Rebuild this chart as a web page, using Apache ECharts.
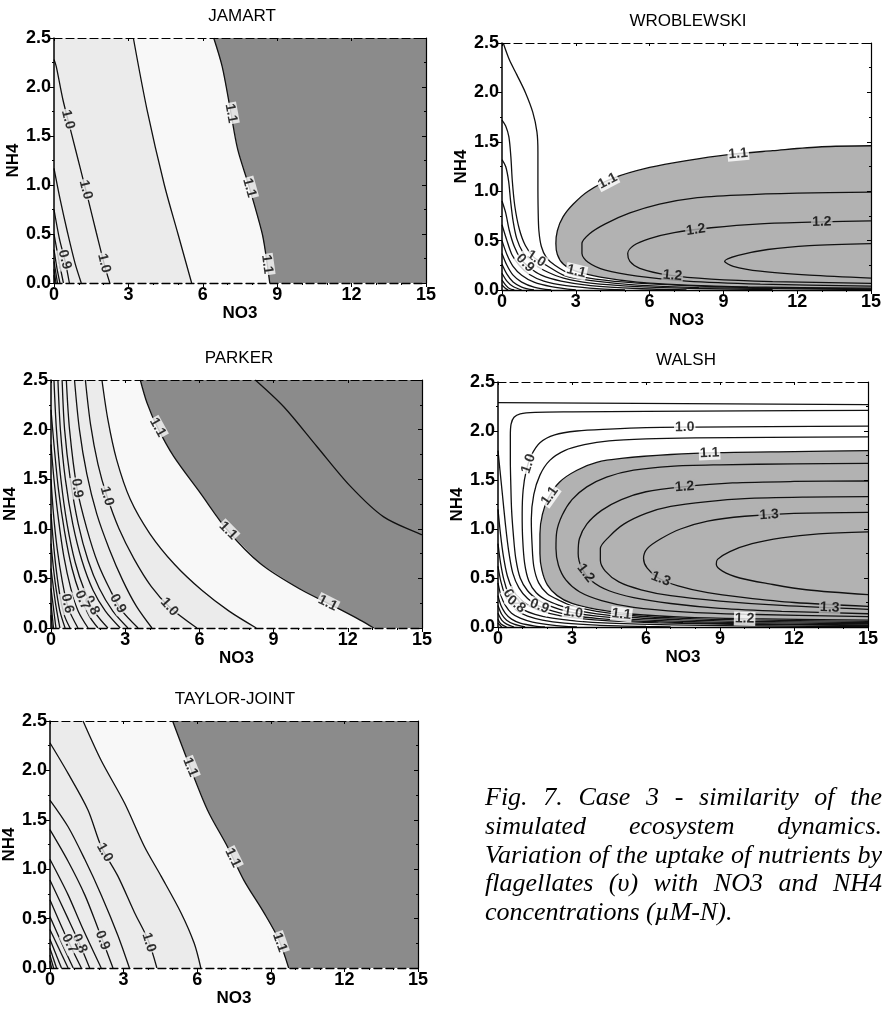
<!DOCTYPE html>
<html><head><meta charset="utf-8">
<script src="https://cdn.jsdelivr.net/npm/echarts@6/dist/echarts.min.js"></script>
<style>html,body{margin:0;padding:0;background:#fff}#c{width:884px;height:1009px}</style>
</head><body><div id="c"></div>
<script>
// ---------------- data ----------------
const panelTitles = ['JAMART', 'WROBLEWSKI', 'PARKER', 'WALSH', 'TAYLOR-JOINT'];
const xName = 'NO3', yName = 'NH4';
const xTickLabels = ['0', '3', '6', '9', '12', '15'];
const yTickLabels = ['0.0', '0.5', '1.0', '1.5', '2.0', '2.5'];

// JAMART contours [NO3, NH4]
const j_110 = [[6.44,2.5],[6.78,2.21],[7.11,1.77],[7.41,1.36],[7.86,0.99],[8.39,0.51],[8.53,0.31],[8.7,0]];
const j_105 = [[3.2,2.5],[3.75,1.77],[4.45,1.0],[5.0,0.5],[5.55,0]];
const j_100 = [[0,2.28],[0.09,2.21],[0.36,1.87],[0.7,1.53],[1.04,1.19],[1.38,0.85],[1.71,0.51],[2.05,0.17],[2.25,0]];
const j_095 = [[0,1.17],[0.25,0.85],[0.55,0.51],[0.85,0.2],[1.1,0]];
const j_090 = [[0,0.75],[0.22,0.45],[0.45,0.22],[0.62,0]];
const j_085 = [[0,0.5],[0.18,0.25],[0.38,0]];
const j_080 = [[0,0.34],[0.12,0.15],[0.24,0]];
const j_075 = [[0,0.22],[0.14,0]];
const j_070 = [[0,0.14],[0.08,0]];
const j_065 = [[0,0.08],[0.04,0]];
const jamartLabels = [[0.57,1.67,'1.0'],[1.24,0.95,'1.0'],[1.98,0.2,'1.0'],[0.45,0.24,'0.9'],[7.11,1.73,'1.1'],[7.85,0.97,'1.1'],[8.6,0.19,'1.1']];

// WROBLEWSKI contours
const w_110 = [[15,1.46],[13,1.45],[11,1.41],[9.2,1.37],[7.5,1.31],[6,1.24],[4.5,1.13],[3.5,1.0],[2.9,0.87],[2.48,0.74],[2.25,0.6],[2.19,0.47],[2.25,0.36],[2.5,0.26],[3,0.19],[4,0.13],[5.5,0.08],[7.5,0.05],[10,0.032],[15,0.018]];
const w_115 = [[15,0.99],[12,0.98],[9.6,0.96],[7.8,0.93],[6.4,0.87],[5.2,0.78],[4.2,0.67],[3.56,0.57],[3.25,0.47],[3.25,0.37],[3.5,0.28],[4.2,0.2],[5.5,0.14],[7.5,0.09],[10.5,0.06],[15,0.04]];
const w_120 = [[15,0.7],[13,0.69],[10.5,0.67],[8.5,0.63],[7,0.58],[6,0.52],[5.35,0.45],[5.11,0.37],[5.2,0.29],[5.6,0.22],[6.8,0.15],[8.5,0.11],[11,0.085],[15,0.068]];
const w_125 = [[15,0.47],[12.5,0.45],[10.8,0.41],[9.6,0.35],[9.05,0.29],[9.4,0.24],[10.5,0.19],[12.5,0.15],[15,0.12]];
const w_a = [[0.05,2.5],[0.3,2.33],[0.6,2.18],[0.95,2.0],[1.25,1.8],[1.42,1.6],[1.46,1.4],[1.46,1.1],[1.47,0.8],[1.5,0.6],[1.6,0.44],[1.8,0.33],[2.15,0.25],[2.8,0.16],[3.8,0.11],[5.5,0.07],[8,0.04],[11,0.022],[15,0.01]];
const w_b = [[0,1.72],[0.15,1.66],[0.28,1.55],[0.36,1.35],[0.42,1.1],[0.52,0.85],[0.7,0.62],[0.95,0.45],[1.3,0.33],[1.8,0.25],[2.6,0.14],[3.8,0.09],[5.5,0.05],[8,0.025],[15,0.005]];
const w_c = [[0,1.32],[0.15,1.25],[0.27,1.1],[0.35,0.9],[0.45,0.7],[0.6,0.52],[0.85,0.38],[1.2,0.28],[1.7,0.2],[2.5,0.12],[3.6,0.07],[5.5,0.035],[8,0.015],[11,0.004]];
const w_d = [[0,0.9],[0.15,0.78],[0.3,0.6],[0.5,0.44],[0.75,0.32],[1.1,0.23],[1.6,0.15],[2.4,0.09],[3.6,0.045],[5.5,0.015],[7.5,0]];
const w_e = [[0,0.66],[0.2,0.5],[0.4,0.36],[0.7,0.25],[1.1,0.16],[1.7,0.09],[2.6,0.045],[4,0.012],[5,0]];
const w_f = [[0,0.5],[0.2,0.36],[0.45,0.24],[0.8,0.15],[1.3,0.08],[2,0.035],[3,0]];
const w_g = [[0,0.37],[0.2,0.25],[0.45,0.15],[0.8,0.08],[1.3,0.03],[2,0]];
const w_h = [[0,0.26],[0.2,0.16],[0.45,0.08],[0.8,0.03],[1.3,0]];
const w_i = [[0,0.17],[0.2,0.09],[0.45,0.035],[0.8,0]];
const w_j = [[0,0.1],[0.15,0.05],[0.3,0.015],[0.5,0]];
const w_k = [[0,0.05],[0.12,0.02],[0.25,0]];
const wroblewskiLabels = [[9.6,1.385,'1.1'],[4.24,1.13,'1.1'],[7.88,0.61,'1.2'],[13.0,0.69,'1.2'],[6.93,0.15,'1.2'],[3.02,0.19,'1.1'],[1.4,0.32,'1.0'],[0.93,0.27,'0.9']];

// PARKER contours
const p_110 = [[3.61,2.5],[3.88,2.27],[4.29,2.03],[4.96,1.73],[6.04,1.36],[7.12,0.99],[8.46,0.65],[10.08,0.39],[11.43,0.22],[12.5,0.08],[13.05,0]];
const p_115 = [[8.26,2.5],[9.41,2.23],[10.75,1.83],[12.1,1.43],[13.45,1.12],[15,0.94]];
const p_105 = [[2.06,2.5],[2.3,2.1],[2.65,1.7],[3.2,1.3],[4.0,0.95],[5.0,0.64],[6.1,0.38],[7.2,0.17],[8.3,0]];
const p_100 = [[1.39,2.5],[1.6,2.05],[1.9,1.65],[2.26,1.33],[2.75,1.0],[3.35,0.7],[4.05,0.42],[4.8,0.21],[5.9,0]];
const p_095 = [[0.95,2.5],[1.15,2.0],[1.45,1.55],[1.85,1.15],[2.35,0.8],[2.9,0.48],[3.45,0.22],[4.08,0]];
const p_090 = [[0.62,2.5],[0.75,2.0],[1.05,1.41],[1.45,1.0],[1.9,0.65],[2.4,0.38],[2.85,0.18],[3.52,0]];
const p_a = [[0.45,2.5],[0.55,2.0],[0.78,1.5],[1.1,1.05],[1.5,0.68],[1.95,0.4],[2.5,0.17],[3.11,0]];
const p_b = [[0.28,2.5],[0.38,2.0],[0.58,1.5],[0.88,1.05],[1.25,0.68],[1.7,0.38],[2.2,0.17],[2.8,0]];
const p_080 = [[0.12,2.5],[0.22,2.0],[0.4,1.5],[0.65,1.05],[0.98,0.66],[1.35,0.38],[1.8,0.15],[2.3,0]];
const p_c = [[0,2.2],[0.12,1.85],[0.3,1.4],[0.55,0.97],[0.85,0.6],[1.2,0.32],[1.55,0.12],[1.9,0]];
const p_070 = [[0,1.85],[0.12,1.5],[0.3,1.1],[0.52,0.72],[0.8,0.4],[1.1,0.17],[1.5,0]];
const p_060 = [[0,1.5],[0.1,1.15],[0.25,0.8],[0.45,0.48],[0.7,0.2],[1.09,0]];
const p_d = [[0,1.15],[0.1,0.85],[0.22,0.57],[0.38,0.3],[0.55,0.12],[0.77,0]];
const p_e = [[0,0.85],[0.1,0.6],[0.22,0.37],[0.36,0.17],[0.57,0]];
const p_f = [[0,0.6],[0.1,0.4],[0.2,0.22],[0.36,0]];
const p_g = [[0,0.4],[0.08,0.24],[0.2,0]];
const p_h = [[0,0.25],[0.1,0]];
const p_i = [[0,0.13],[0.05,0]];
const parkerLabels = [[4.15,2.0,'1.1'],[6.91,0.92,'1.1'],[11.09,0.2,'1.1'],[2.26,1.33,'1.0'],[1.05,1.41,'0.9'],[4.82,0.22,'1.0'],[2.74,0.25,'0.9'],[1.66,0.23,'0.8'],[1.16,0.27,'0.7'],[0.71,0.25,'0.6']];

// WALSH contours
const h_top = [[0,2.29],[15,2.27]];
const h_b = [[15,2.21],[10,2.205],[6,2.2],[3,2.195],[1.5,2.19],[0.9,2.175],[0.65,2.14],[0.53,2.07],[0.5,1.95],[0.5,1.7],[0.52,1.45],[0.55,1.2],[0.62,0.95],[0.72,0.7],[0.9,0.5],[1.2,0.37],[1.6,0.28],[2.0,0.225],[2.5,0.18],[3.0,0.148],[4,0.11],[5.5,0.078],[7.5,0.058],[10,0.045],[15,0.033]];
const h_c = [[15,2.05],[11,2.045],[8,2.04],[6,2.035],[4.5,2.02],[3.2,2.0],[2.3,1.96],[1.7,1.88],[1.35,1.75],[1.15,1.6],[1.02,1.4],[0.98,1.15],[1.0,0.9],[1.08,0.65],[1.25,0.47],[1.55,0.35],[2.0,0.27],[2.5,0.22],[3.0,0.18],[4,0.135],[5.5,0.097],[7.5,0.073],[10,0.058],[15,0.045]];
const h_d = [[15,1.94],[11,1.935],[8,1.93],[6,1.92],[4.5,1.9],[3.5,1.86],[2.7,1.8],[2.1,1.7],[1.7,1.55],[1.45,1.35],[1.35,1.1],[1.38,0.85],[1.45,0.62],[1.65,0.45],[2.0,0.34],[2.5,0.27],[3.0,0.215],[4,0.16],[5.5,0.115],[7.5,0.088],[10,0.072],[15,0.058]];
const h_110 = [[15,1.8],[12,1.79],[9,1.78],[7,1.76],[5,1.72],[4,1.68],[3.2,1.6],[2.5,1.48],[2.05,1.32],[1.8,1.15],[1.7,0.95],[1.7,0.75],[1.78,0.58],[2.0,0.43],[2.4,0.32],[3.0,0.24],[4,0.18],[5.5,0.13],[7.5,0.1],[10,0.085],[15,0.07]];
const h_115 = [[15,1.67],[12,1.665],[9,1.655],[7,1.64],[5.5,1.6],[4.4,1.53],[3.6,1.43],[3.0,1.3],[2.6,1.14],[2.38,0.97],[2.35,0.8],[2.45,0.63],[2.75,0.48],[3.3,0.36],[4.2,0.27],[5.5,0.2],[7.5,0.155],[10,0.13],[15,0.105]];
const h_120 = [[15,1.49],[12,1.485],[9.5,1.47],[7.5,1.43],[6,1.38],[5,1.3],[4.2,1.19],[3.6,1.05],[3.3,0.9],[3.25,0.75],[3.4,0.6],[3.8,0.47],[4.5,0.37],[5.5,0.3],[7,0.24],[9,0.19],[11.5,0.16],[15,0.135]];
const h_125 = [[15,1.33],[12.5,1.325],[10,1.31],[8.5,1.28],[7,1.23],[6,1.16],[5.1,1.05],[4.5,0.92],[4.15,0.8],[4.15,0.68],[4.35,0.57],[4.9,0.46],[5.8,0.38],[7,0.32],[9,0.265],[11.5,0.22],[15,0.18]];
const h_130 = [[15,1.17],[12,1.16],[10,1.13],[8.5,1.08],[7.4,1.0],[6.6,0.9],[6.05,0.8],[5.9,0.7],[6.05,0.6],[6.5,0.5],[7.3,0.42],[8.5,0.35],[10,0.3],[12,0.25],[15,0.21]];
const h_135 = [[15,0.97],[13,0.95],[11.5,0.91],[10.3,0.85],[9.4,0.77],[8.9,0.69],[8.85,0.64],[9.1,0.57],[9.8,0.5],[11,0.44],[12.5,0.38],[15,0.33]];
const h_f1 = [[0,1.8],[0.08,1.6],[0.18,1.35],[0.3,1.05],[0.43,0.78],[0.6,0.55],[0.85,0.4],[1.2,0.29],[1.6,0.22],[2,0.18],[2.5,0.145],[3,0.12],[4,0.088],[5.5,0.062],[7.5,0.045],[10,0.033],[15,0.022]];
const h_f2 = [[0,1.2],[0.1,0.95],[0.22,0.72],[0.38,0.52],[0.6,0.38],[0.9,0.28],[1.3,0.21],[1.8,0.16],[2.5,0.115],[3.2,0.09],[4.5,0.062],[6.5,0.042],[9.5,0.028],[15,0.015]];
const h_f3 = [[0,0.85],[0.1,0.66],[0.24,0.48],[0.42,0.34],[0.65,0.25],[1.0,0.18],[1.5,0.13],[2.2,0.09],[3.2,0.06],[4.5,0.04],[7,0.022],[11,0.01],[15,0.005]];
const h_f4 = [[0,0.62],[0.12,0.46],[0.28,0.33],[0.5,0.23],[0.8,0.16],[1.2,0.11],[1.8,0.07],[2.7,0.04],[4,0.02],[6,0.005],[7,0]];
const h_f5 = [[0,0.45],[0.12,0.32],[0.3,0.22],[0.55,0.14],[0.9,0.09],[1.4,0.05],[2.2,0.02],[3.2,0]];
const h_f6 = [[0,0.32],[0.12,0.22],[0.3,0.14],[0.55,0.08],[0.9,0.04],[1.5,0.01],[1.9,0]];
const h_f7 = [[0,0.22],[0.15,0.13],[0.35,0.07],[0.65,0.03],[1.1,0]];
const h_f8 = [[0,0.14],[0.15,0.07],[0.35,0.03],[0.65,0]];
const h_f9 = [[0,0.08],[0.12,0.03],[0.35,0]];
const h_f10 = [[0,0.04],[0.15,0]];
const walshLabels = [[0.54,0.29,'0.7'],[0.81,0.255,'0.8'],[1.69,0.22,'0.9'],[3.04,0.14,'1.0'],[5.0,0.12,'1.1'],[10.0,0.1,'1.2'],[13.45,0.2,'1.3'],[6.55,0.46,'1.3'],[3.45,0.53,'1.2'],[2.09,1.34,'1.1'],[1.08,1.68,'1.0'],[7.57,2.05,'1.0'],[8.58,1.76,'1.1'],[7.57,1.41,'1.2'],[11.0,1.12,'1.3']];

// TAYLOR-JOINT contours
const t_110 = [[5.0,2.5],[5.61,2.1],[6.42,1.6],[7.23,1.23],[7.9,0.89],[8.72,0.56],[9.32,0.29],[9.73,0]];
const t_105 = [[1.35,2.5],[2.09,2.1],[3.04,1.67],[3.85,1.23],[4.53,0.93],[5.34,0.56],[5.88,0.25],[6.15,0]];
const t_100 = [[0,2.28],[0.74,1.97],[1.55,1.6],[2.09,1.23],[2.77,0.93],[3.45,0.56],[3.99,0.29],[4.36,0]];
const t_a = [[0,1.7],[0.74,1.43],[1.42,1.1],[2.09,0.74],[2.77,0.33],[3.24,0]];
const t_090 = [[0,1.4],[0.74,1.08],[1.42,0.74],[1.96,0.4],[2.57,0]];
const t_b = [[0,1.1],[0.74,0.74],[1.3,0.42],[2.09,0]];
const t_080 = [[0,0.89],[0.7,0.52],[1.2,0.25],[1.62,0]];
const t_c = [[0,0.69],[0.6,0.35],[1.28,0]];
const t_070 = [[0,0.52],[0.5,0.24],[0.95,0]];
const t_d = [[0,0.39],[0.74,0]];
const t_e = [[0,0.29],[0.47,0]];
const t_f = [[0,0.2],[0.27,0]];
const t_g = [[0,0.13],[0.15,0]];
const t_h = [[0,0.07],[0.07,0]];
const taylorLabels = [[5.81,2.04,'1.1'],[7.57,1.13,'1.1'],[9.26,0.25,'1.1'],[2.09,1.15,'1.0'],[3.92,0.25,'1.0'],[2.03,0.27,'0.9'],[1.22,0.25,'0.8'],[0.74,0.24,'0.7']];

const captionLines = [
  'Fig. 7. Case 3 - similarity of the',
  'simulated ecosystem dynamics.',
  'Variation of the uptake of nutrients by',
  'flagellates (\u03c5) with NO3 and NH4',
  'concentrations (\u00b5M-N).'
];

// ---------------- layout & style ----------------
const FONT = '"Liberation Sans", Arial, sans-serif';
const SERIF = '"Liberation Serif", "Times New Roman", serif';
const DARK = '#8b8b8b', MID = '#b2b2b2', LIGHT = '#ebebeb', PALE = '#f8f8f8', WHITE = '#ffffff';
const XMAX = 15, YMAX = 2.5;
const rightCorners = [[XMAX, 0], [XMAX, YMAX]];

const grids = [
  {left: 54, top: 38, width: 372, height: 245},
  {left: 502, top: 43, width: 371, height: 247},
  {left: 51, top: 380, width: 371, height: 248},
  {left: 498, top: 382, width: 370, height: 245},
  {left: 48, top: 721, width: 370, height: 247}
];
const titlePos = [[242, 16], [688, 21], [239, 358], [686, 360], [235, 699]];

const panels = [
  {bg: LIGHT, dashedBottom: true,
   lines: [j_110, j_105, j_100, j_095, j_090, j_085, j_080, j_075, j_070, j_065],
   fills: [{poly: j_105.concat(j_110.slice().reverse()), color: PALE},
           {poly: j_110.concat(rightCorners), color: DARK}],
   labels: jamartLabels},
  {bg: WHITE, dashedBottom: false,
   lines: [w_110, w_115, w_120, w_125, w_a, w_b, w_c, w_d, w_e, w_f, w_g, w_h, w_i, w_j, w_k],
   fills: [{poly: w_110, color: MID}],
   labels: wroblewskiLabels},
  {bg: LIGHT, dashedBottom: true,
   lines: [p_110, p_115, p_105, p_100, p_095, p_090, p_a, p_b, p_080, p_c, p_070, p_060, p_d, p_e, p_f, p_g, p_h, p_i],
   fills: [{poly: p_105.concat(p_110.slice().reverse()), color: PALE},
           {poly: p_110.concat(rightCorners), color: DARK}],
   labels: parkerLabels},
  {bg: WHITE, dashedBottom: false,
   lines: [h_top, h_b, h_c, h_d, h_110, h_115, h_120, h_125, h_130, h_135, h_f1, h_f2, h_f3, h_f4, h_f5, h_f6, h_f7, h_f8, h_f9, h_f10],
   fills: [{poly: h_110, color: MID}],
   labels: walshLabels},
  {bg: LIGHT, dashedBottom: true,
   lines: [t_110, t_105, t_100, t_a, t_090, t_b, t_080, t_c, t_070, t_d, t_e, t_f, t_g, t_h],
   fills: [{poly: t_105.concat(t_110.slice().reverse()), color: PALE},
           {poly: t_110.concat(rightCorners), color: DARK}],
   labels: taylorLabels}
];

// geometric helpers (only used to orient labels along the lines)
function toPix(i, pt) { const g = grids[i]; return [g.left + pt[0] / XMAX * g.width, g.top + g.height - pt[1] / YMAX * g.height]; }
function toData(i, q) { const g = grids[i]; return [(q[0] - g.left) / g.width * XMAX, (g.top + g.height - q[1]) / g.height * YMAX]; }
function inPoly(pt, poly) {
  let c = false;
  for (let a = 0, b = poly.length - 1; a < poly.length; b = a++) {
    const xi = poly[a][0], yi = poly[a][1], xj = poly[b][0], yj = poly[b][1];
    if (((yi > pt[1]) !== (yj > pt[1])) && (pt[0] < (xj - xi) * (pt[1] - yi) / (yj - yi) + xi)) c = !c;
  }
  return c;
}
function brightness(hex) { const n = parseInt(hex.slice(1), 16); return ((n >> 16) & 255) + ((n >> 8) & 255) + (n & 255); }
function regionColor(p, pt) { let c = p.bg; p.fills.forEach(f => { if (inPoly(pt, f.poly)) c = f.color; }); return c; }
function labelData(p, i) {
  const pixLines = p.lines.map(ln => ln.map(pt => toPix(i, pt)));
  return p.labels.map(lb => {
    const px = toPix(i, [lb[0], lb[1]]);
    let best = {d: Infinity};
    pixLines.forEach(pl => {
      for (let k = 0; k < pl.length - 1; k++) {
        const a = pl[k], b = pl[k + 1];
        const dx = b[0] - a[0], dy = b[1] - a[1], L2 = dx * dx + dy * dy;
        let t = L2 ? ((px[0] - a[0]) * dx + (px[1] - a[1]) * dy) / L2 : 0;
        t = Math.max(0, Math.min(1, t));
        const q = [a[0] + t * dx, a[1] + t * dy];
        const d = Math.hypot(q[0] - px[0], q[1] - px[1]);
        if (d < best.d) best = {d, q, dx, dy};
      }
    });
    let ang = Math.atan2(-best.dy, best.dx) * 180 / Math.PI;
    if (ang > 90) ang -= 180;
    if (ang < -90) ang += 180;
    // background = lighter of the two regions on either side of the line
    let nx = -best.dy, ny = best.dx;
    const nl = Math.hypot(nx, ny) || 1; nx /= nl; ny /= nl;
    const c1 = regionColor(p, toData(i, [best.q[0] + nx * 5, best.q[1] + ny * 5]));
    const c2 = regionColor(p, toData(i, [best.q[0] - nx * 5, best.q[1] - ny * 5]));
    const bg = brightness(c1) >= brightness(c2) ? c1 : c2;
    return {value: toData(i, best.q), name: lb[2],
      label: {rotate: ang, backgroundColor: bg}};
  });
}

const chart = echarts.init(document.getElementById('c'), null, {renderer: 'canvas'});

const gridOpt = [], xAxis = [], yAxis = [], series = [];
panels.forEach((p, i) => {
  gridOpt.push(Object.assign({show: true, backgroundColor: p.bg, borderWidth: 0, containLabel: false}, grids[i]));
  const tickStyle = {color: '#000', width: 1};
  xAxis.push({gridIndex: i, type: 'value', min: 0, max: XMAX, interval: 3, position: 'bottom', zlevel: 2, z: 10,
    name: xName, nameLocation: 'middle', nameGap: 15,
    nameTextStyle: {fontSize: 17, fontWeight: 'bold', color: '#000', fontFamily: FONT},
    axisLine: {show: true, onZero: false, lineStyle: {color: '#000', width: 1.3, type: p.dashedBottom ? [8, 4] : 'solid'}},
    axisTick: {show: true, inside: false, length: 4, lineStyle: tickStyle},
    minorTick: {show: true, splitNumber: 3, length: 2, lineStyle: tickStyle},
    axisLabel: {margin: 3, fontSize: 18, fontWeight: 'bold', color: '#000', fontFamily: FONT,
      formatter: v => xTickLabels[Math.round(v / 3)]},
    splitLine: {show: false}, minorSplitLine: {show: false}});
  xAxis.push({gridIndex: i, type: 'value', min: 0, max: XMAX, interval: 3, position: 'top', zlevel: 2, z: 10,
    axisLine: {show: true, onZero: false, lineStyle: {color: '#000', width: 1.2, type: [8, 4]}},
    axisTick: {show: true, inside: true, length: 3, lineStyle: tickStyle},
    axisLabel: {show: false}, splitLine: {show: false}});
  yAxis.push({gridIndex: i, type: 'value', min: 0, max: YMAX, interval: 0.5, position: 'left', zlevel: 2, z: 10,
    name: yName, nameLocation: 'middle', nameGap: 20,
    nameTextStyle: {fontSize: 17, fontWeight: 'bold', color: '#000', fontFamily: FONT},
    axisLine: {show: true, onZero: false, lineStyle: {color: '#000', width: 1.5}},
    axisTick: {show: true, inside: false, length: 4, lineStyle: tickStyle},
    minorTick: {show: true, splitNumber: 2, length: 2, lineStyle: tickStyle},
    axisLabel: {margin: 3, fontSize: 18, fontWeight: 'bold', color: '#000', fontFamily: FONT,
      formatter: v => yTickLabels[Math.round(v / 0.5)]},
    splitLine: {show: false}, minorSplitLine: {show: false}});
  yAxis.push({gridIndex: i, type: 'value', min: 0, max: YMAX, interval: 0.5, position: 'right', zlevel: 2, z: 10,
    axisLine: {show: true, onZero: false, lineStyle: {color: '#000', width: 1.2}},
    axisTick: {show: true, inside: true, length: 4, lineStyle: tickStyle},
    minorTick: {show: true, splitNumber: 2, length: 2, lineStyle: tickStyle},
    axisLabel: {show: false}, splitLine: {show: false}});

  p.fills.forEach((f, fi) => {
    series.push({id: 'fill' + i + '_' + fi, type: 'custom', xAxisIndex: 2 * i, yAxisIndex: 2 * i, silent: true,
      zlevel: 0, z: 1, data: [[0, 0]], clip: true,
      renderItem: (params, api) => ({type: 'polygon',
        shape: {points: f.poly.map(pt => api.coord(pt))},
        style: {fill: f.color, stroke: null}})});
  });
  p.lines.forEach((ln, li) => {
    series.push({id: 'line' + i + '_' + li, type: 'line', xAxisIndex: 2 * i, yAxisIndex: 2 * i,
      data: ln.map(pt => [pt[0], pt[1]]), showSymbol: false, symbol: 'none',
      smooth: 0.3, silent: true, zlevel: 1, z: 3, clip: true, lineStyle: {color: '#111', width: 1.3}});
  });
  series.push({id: 'lab' + i, type: 'scatter', xAxisIndex: 2 * i, yAxisIndex: 2 * i, zlevel: 1, z: 6, silent: true,
    symbolSize: 1, itemStyle: {color: 'rgba(0,0,0,0)'},
    label: {show: true, position: 'inside', formatter: '{b}', padding: [0, 1],
      fontSize: 14, fontWeight: 'bold', color: '#000', fontFamily: FONT},
    data: labelData(p, i)});
});

// caption words justified
function captionElements() {
  const ctx = document.createElement('canvas').getContext('2d');
  const L = 485, R = 882, ys = [798, 827, 856, 884, 913];
  const meas = (t, f) => { ctx.font = 'italic ' + f + 'px ' + SERIF; return ctx.measureText(t).width; };
  let fs = 26;
  captionLines.slice(0, 4).forEach(l => { const w = meas(l, 26); fs = Math.min(fs, 26 * (R - L) / w); });
  const els = [];
  captionLines.forEach((line, k) => {
    const st = {fontSize: fs, fontStyle: 'italic', fontFamily: SERIF, fill: '#000', verticalAlign: 'middle', align: 'left'};
    if (k < 4) {
      const words = line.split(' ');
      const ws = words.map(w => meas(w, fs));
      const tot = ws.reduce((a, b) => a + b, 0);
      const gap = (R - L - tot) / (words.length - 1);
      let x = L;
      words.forEach((w, m) => {
        els.push({type: 'text', x: x, y: ys[k], style: Object.assign({text: w}, st)});
        x += ws[m] + gap;
      });
    } else {
      els.push({type: 'text', x: L, y: ys[k], style: Object.assign({text: line}, st)});
    }
  });
  return els;
}

const graphicEls = panelTitles.map((t, i) => ({type: 'text', x: titlePos[i][0], y: titlePos[i][1],
  style: {text: t, fontSize: 17, fontFamily: FONT, fill: '#000', align: 'center', verticalAlign: 'middle'}}))
  .concat(captionElements());

chart.setOption({animation: false, backgroundColor: '#fff', grid: gridOpt, xAxis: xAxis, yAxis: yAxis,
  series: series, graphic: {elements: graphicEls}});
</script></body></html>
